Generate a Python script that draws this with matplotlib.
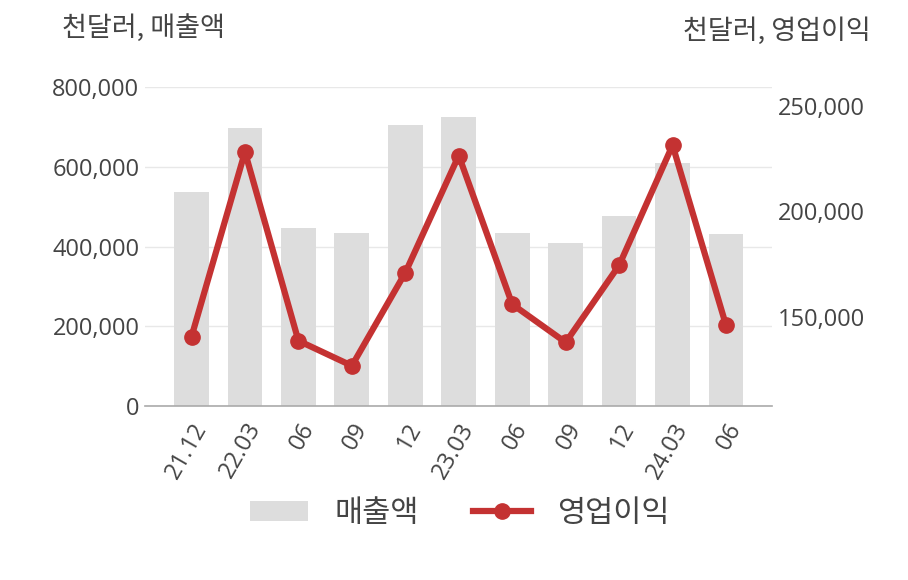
import matplotlib
matplotlib.use("Agg")
import matplotlib.pyplot as plt
import matplotlib.ticker as mticker
from matplotlib.lines import Line2D
from matplotlib.patches import Patch

plt.rcParams['font.family'] = ['Open Sans', 'Noto Sans CJK KR', 'DejaVu Sans']

labels = ["21.12", "22.03", "06", "09", "12", "23.03", "06", "09", "12", "24.03", "06"]
sales = [536000, 698000, 448000, 435000, 706000, 726000, 435000, 410000, 478000, 611000, 433000]
op_income = [140500, 228200, 138600, 126700, 170900, 226500, 155900, 137800, 174400, 231400, 145900]

TXT = "#444444"
BAR = "#dddddd"
RED = "#c43232"
KR = ['Noto Sans CJK KR', 'DejaVu Sans']

fig = plt.figure(figsize=(9.08, 5.8), dpi=100)
ax = fig.add_axes([145/908, 1-406/580, (772-145)/908, (406-87.3)/580])
ax2 = ax.twinx()

x = list(range(len(labels)))
ax.bar(x, sales, width=0.65, color=BAR, zorder=2)
ax2.plot(x, op_income, color=RED, lw=4.5, marker='o', ms=11, zorder=3)

ax.set_xlim(-0.87, 10.86)
ax.set_ylim(0, 800000)
ax2.set_ylim(107600, 258900)

ax.set_yticks([0, 200000, 400000, 600000, 800000])
ax.yaxis.set_major_formatter(mticker.FuncFormatter(lambda v, p: f"{int(v):,}"))
ax2.set_yticks([150000, 200000, 250000])
ax2.yaxis.set_major_formatter(mticker.FuncFormatter(lambda v, p: f"{int(v):,}"))

ax.grid(axis='y', color='#e8e8e8', lw=1, zorder=0)
ax.set_axisbelow(True)
for a in (ax, ax2):
    for s in ('top', 'left', 'right', 'bottom'):
        a.spines[s].set_visible(False)
ax.spines['bottom'].set_visible(True)
ax.spines['bottom'].set_color('#aaaaaa')
ax.spines['bottom'].set_linewidth(1.2)

ax.tick_params(axis='y', length=0, pad=4, labelsize=17, labelcolor=TXT)
ax2.tick_params(axis='y', length=0, pad=4, labelsize=17, labelcolor=TXT)
ax.set_xticks(x)
ax.set_xticklabels(labels, rotation=60, ha='right', rotation_mode='anchor', fontsize=17, color=TXT)
ax.tick_params(axis='x', length=0, pad=9)

fig.text(62/908, 1-28/580, "천달러, 매출액", fontsize=19.5, color=TXT, ha='left', va='center', family=KR)
fig.text(871/908, 1-31/580, "천달러, 영업이익", fontsize=19.5, color=TXT, ha='right', va='center', family=KR)

handles = [Patch(facecolor=BAR, edgecolor='none'),
           Line2D([0], [0], color=RED, lw=4.5, marker='o', ms=11)]
fig.legend(handles, ["매출액", "영업이익"], loc='center', bbox_to_anchor=(460/908, 1-513/580),
           ncol=2, frameon=False, prop={'family': KR, 'size': 22}, labelcolor=TXT, handlelength=1.9,
           handleheight=0.65, columnspacing=1.8, handletextpad=0.85)

fig.savefig("out.png", dpi=100)
